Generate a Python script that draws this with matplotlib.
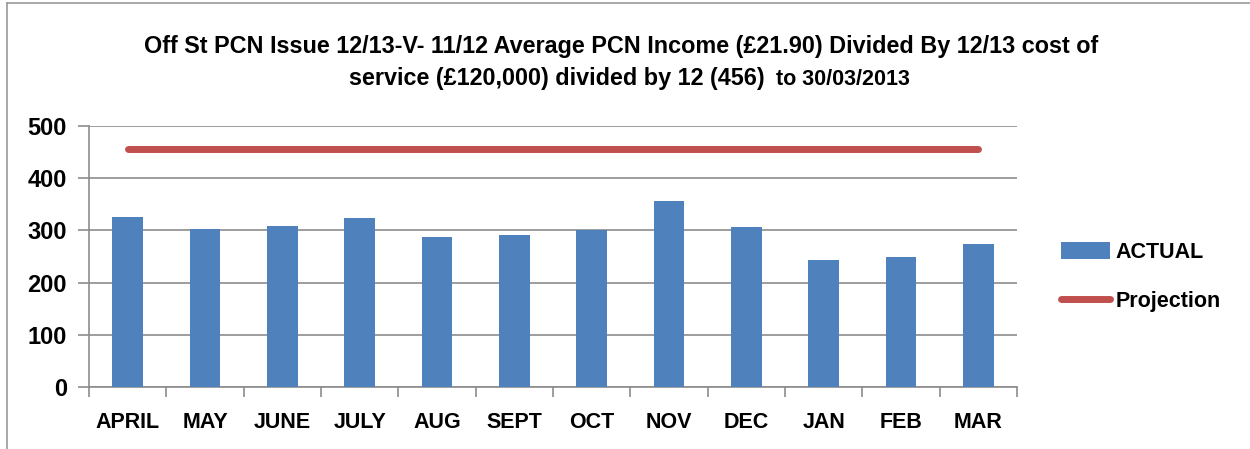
#!/usr/bin/env python3

import matplotlib

matplotlib.use("Agg")
import matplotlib.pyplot as plt
from matplotlib.lines import Line2D
from matplotlib.patches import Patch
import numpy as np


MONTHS = ["APRIL", "MAY", "JUNE", "JULY", "AUG", "SEPT", "OCT", "NOV", "DEC", "JAN", "FEB", "MAR"]
ACTUAL = [326, 303, 309, 324, 287, 292, 300, 356, 307, 244, 249, 274]
PROJECTION = [456] * 12
Y_TICKS = [0, 100, 200, 300, 400, 500]

BAR_COLOR = "#4f81bd"
LINE_COLOR = "#c0504d"
GRID_COLOR = "#8c8c8c"
FONT = "Liberation Sans"


def main() -> int:
    fig = plt.figure(figsize=(12.5, 4.49), dpi=100)
    ax = fig.add_axes((0.0712, 0.138, 0.7424, 0.5814))

    x = np.arange(len(MONTHS))
    ax.bar(x, ACTUAL, width=0.4, color=BAR_COLOR, zorder=3)
    ax.plot(x, PROJECTION, color=LINE_COLOR, linewidth=5, solid_capstyle="round", zorder=4)

    ax.set_xlim(-0.5, len(MONTHS) - 0.5)
    ax.set_ylim(0, 500)
    ax.set_yticks(Y_TICKS)
    ax.set_yticklabels([str(v) for v in Y_TICKS], fontsize=17, fontweight="bold", family=FONT)
    ax.set_xticks(x)
    ax.set_xticklabels(MONTHS, fontsize=15.5, fontweight="bold", family=FONT)
    ax.set_xticks(np.arange(-0.5, len(MONTHS)), minor=True)
    ax.tick_params(axis="x", which="major", length=0, pad=18)
    ax.tick_params(axis="x", which="minor", length=7, width=1.2, color=GRID_COLOR, direction="out")
    ax.tick_params(axis="y", length=8, width=1.2, color=GRID_COLOR, pad=8)

    ax.grid(True, axis="y", color=GRID_COLOR, linewidth=1.2, zorder=0)
    ax.set_axisbelow(True)
    for side in ("top", "right"):
        ax.spines[side].set_visible(False)
    for side in ("left", "bottom"):
        ax.spines[side].set_color(GRID_COLOR)
        ax.spines[side].set_linewidth(1.2)

    handles = [
        Patch(facecolor=BAR_COLOR, label="ACTUAL"),
        Line2D([0], [0], color=LINE_COLOR, linewidth=5, solid_capstyle="round", label="Projection"),
    ]
    fig.legend(
        handles=handles,
        loc="center left",
        bbox_to_anchor=(0.833, 0.384),
        frameon=False,
        prop={"family": FONT, "weight": "bold", "size": 15.5},
        handlelength=2.3,
        handleheight=0.85,
        labelspacing=1.3,
        handletextpad=0.25,
    )

    fig.text(0.497, 0.897,
             "Off St PCN Issue 12/13-V- 11/12 Average PCN Income (£21.90) Divided By 12/13 cost of",
             ha="center", va="center", fontsize=16.8, fontweight="bold", family=FONT)
    fig.text(0.612, 0.826, "service (£120,000) divided by 12 (456)",
             ha="right", va="center", fontsize=16.8, fontweight="bold", family=FONT)
    fig.text(0.621, 0.822, "to 30/03/2013",
             ha="left", va="center", fontsize=15.5, fontweight="bold", family=FONT)

    # outer chart frame
    fig.add_artist(Line2D([0.0056, 0.0056], [0.0, 0.994], color="#9a9a9a", linewidth=1.2))
    fig.add_artist(Line2D([0.0056, 1.0], [0.994, 0.994], color="#9a9a9a", linewidth=1.2))

    fig.savefig("out.png", dpi=100)
    plt.close(fig)
    return 0


if __name__ == "__main__":
    raise SystemExit(main())
